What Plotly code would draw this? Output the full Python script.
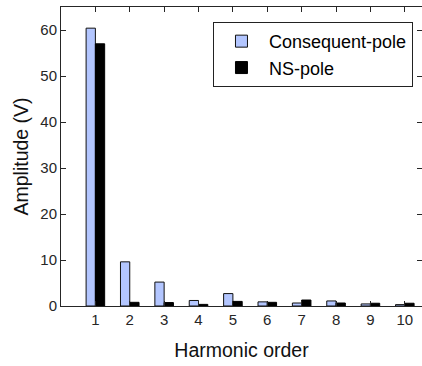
import plotly.graph_objects as go

harmonics = [1, 2, 3, 4, 5, 6, 7, 8, 9, 10]
consequent_pole = [60.4, 9.6, 5.2, 1.2, 2.7, 0.9, 0.65, 1.1, 0.45, 0.3]
ns_pole = [57.0, 0.8, 0.75, 0.35, 1.0, 0.8, 1.3, 0.65, 0.6, 0.6]
y_ticks = [0, 10, 20, 30, 40, 50, 60]

FONT = "Arial, Liberation Sans, Helvetica, sans-serif"
AX = "#262626"

fig = go.Figure()
fig.add_trace(go.Bar(x=harmonics, y=consequent_pole, name="Consequent-pole",
                     marker=dict(color="#b3c6ff", line=dict(color="#111111", width=1))))
fig.add_trace(go.Bar(x=harmonics, y=ns_pole, name="NS-pole",
                     marker=dict(color="#000000", line=dict(color="#000000", width=1))))

fig.update_layout(
    width=422, height=366,
    margin=dict(l=61, r=0, t=7, b=60),
    plot_bgcolor="white", paper_bgcolor="white",
    barmode="group", bargap=0.46, bargroupgap=0,
    font=dict(family=FONT, color=AX, size=15),
    showlegend=True,
    legend=dict(x=0.421, y=0.95, xanchor="left", yanchor="top",
                bgcolor="white", bordercolor="#222222", borderwidth=1,
                font=dict(size=18, color="#000000"), tracegroupgap=0,
                itemwidth=45),
)
fig.update_xaxes(range=[0, 10.5], tickmode="array", tickvals=harmonics,
                 ticks="inside", ticklen=5, tickcolor=AX, showline=True,
                 linecolor=AX, linewidth=1, mirror="ticks", showgrid=False,
                 zeroline=False, automargin=False,
                 title=dict(text="Harmonic order", font=dict(size=19.5, color="#111111"), standoff=16))
fig.update_yaxes(range=[0, 65], tickmode="array", tickvals=y_ticks,
                 ticks="inside", ticklen=5, tickcolor=AX, showline=True,
                 linecolor=AX, linewidth=1, mirror="ticks", showgrid=False,
                 zeroline=False, automargin=False,
                 title=dict(text="Amplitude (V)", font=dict(size=19.5, color="#111111"), standoff=6))

fig.write_html("out.html", config={"displayModeBar": False},
               post_script="document.body.style.margin='0';document.body.style.overflow='hidden';")
